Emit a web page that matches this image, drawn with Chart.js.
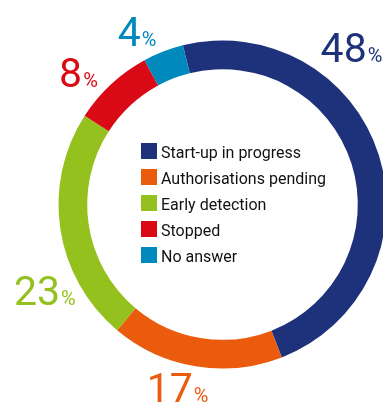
<!DOCTYPE html>
<html>
<head>
<meta charset="utf-8">
<script src="https://cdn.jsdelivr.net/npm/chart.js@4/dist/chart.umd.min.js"></script>
<style>
  html, body { margin: 0; padding: 0; background: #ffffff; overflow: hidden; width: 383px; height: 405px; }
  #wrap { position: absolute; left: 0; top: 0; width: 445px; height: 409px; }
  canvas { display: block; }
</style>
</head>
<body>
<div id="wrap"><canvas id="c" width="445" height="409" style="width:445px;height:409px"></canvas></div>
<script>
// ---- data ----
const categories = ["Start-up in progress", "Authorisations pending", "Early detection", "Stopped", "No answer"];
const values = [48, 17, 23, 8, 4];
const valueLabels = ["48", "17", "23", "8", "4"];
const colors = ["#1e317b", "#ea5b0e", "#95c11f", "#d90a16", "#0089bd"];

// label placement (polar, relative to chart centre: degrees clockwise from top, distance px)
const labelAngles = [39.3, 193.8, 244.1, 312.6, 333.7];
const labelDistances = [203.6, 188.5, 197.5, 195.7, 193];

const numberFont = "400 41px Roboto";
const pctFont = "400 20px Roboto";

const pctLabelPlugin = {
  id: "pctLabels",
  afterDraw(chart) {
    const ctx = chart.ctx;
    const meta = chart.getDatasetMeta(0);
    const arc0 = meta.data[0];
    const cx = arc0.x, cy = arc0.y;
    ctx.save();
    ctx.textBaseline = "alphabetic";
    ctx.textAlign = "left";
    valueLabels.forEach((num, i) => {
      const a = labelAngles[i] * Math.PI / 180;
      const px = cx + labelDistances[i] * Math.sin(a);
      const py = cy - labelDistances[i] * Math.cos(a);
      ctx.font = numberFont;
      const wNum = ctx.measureText(num).width;
      ctx.font = pctFont;
      const wPct = ctx.measureText("%").width;
      const total = wNum + 1 + wPct;
      const x0 = px - total / 2;
      const base = py + 41 * 0.711 / 2;
      ctx.fillStyle = colors[i];
      ctx.font = numberFont;
      ctx.fillText(num, x0, base);
      ctx.font = pctFont;
      ctx.fillText("%", x0 + wNum + 1, base);
    });
    ctx.restore();
  }
};

const legendPlugin = {
  id: "innerLegend",
  afterDraw(chart) {
    const ctx = chart.ctx;
    const left = 141, top = 143, box = 16, gap = 26;
    ctx.save();
    ctx.font = "400 16px Roboto";
    ctx.textBaseline = "alphabetic";
    ctx.textAlign = "left";
    chart.data.labels.forEach((lab, i) => {
      const y = top + i * gap;
      ctx.fillStyle = chart.data.datasets[0].backgroundColor[i];
      ctx.fillRect(left, y, box, box);
      ctx.fillStyle = "#111111";
      ctx.fillText(lab, left + box + 4, y + 15);
    });
    ctx.restore();
  }
};

new Chart(document.getElementById("c"), {
  type: "doughnut",
  data: {
    labels: categories,
    datasets: [{
      data: values,
      backgroundColor: colors,
      borderWidth: 0,
      radius: 164
    }]
  },
  options: {
    responsive: false,
    devicePixelRatio: 1,
    animation: false,
    rotation: -14,
    cutout: "82.5%",
    layout: { padding: 0 },
    plugins: { legend: { display: false }, tooltip: { enabled: false } }
  },
  plugins: [pctLabelPlugin, legendPlugin]
});
</script>
</body>
</html>
